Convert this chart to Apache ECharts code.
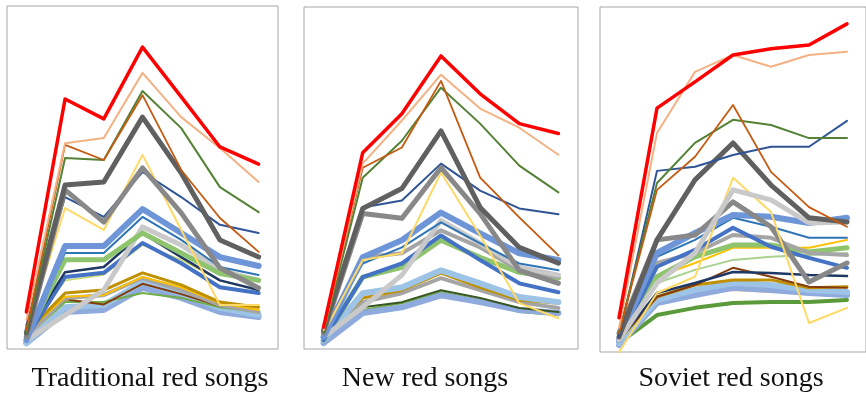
<!DOCTYPE html>
<html><head><meta charset="utf-8">
<script src="https://cdn.jsdelivr.net/npm/echarts@6/dist/echarts.min.js"></script>
<style>html,body{margin:0;padding:0;background:#fff}#c{width:866px;height:395px}</style>
</head><body><div id="c"></div>
<script>
const categories = ['1','2','3','4','5','6','7'];
const panelTitles = ['Traditional red songs', 'New red songs', 'Soviet red songs'];

// Traditional red songs
const tradRed = [10.8, 72.9, 67.1, 88.0, 73.5, 58.9, 53.9];
const tradPeach = [8.5, 60.0, 61.5, 80.5, 67.6, 58.6, 48.7];
const tradOrange = [5.5, 59.5, 55.1, 74.0, 52.2, 38.2, 28.3];
const tradGreen = [4.7, 55.7, 55.1, 75.2, 64.4, 47.2, 39.9];
const tradDGray = [4.7, 47.8, 48.7, 67.6, 51.3, 31.8, 26.8];
const tradMGray = [3.5, 46.4, 37.0, 52.8, 39.7, 23.6, 17.8];
const tradDBlue = [7.0, 44.3, 38.5, 51.6, 44.3, 36.2, 33.8];
const tradYellow = [4.7, 41.1, 34.7, 56.6, 34.7, 12.8, 12.8];
const tradLBlueThick = [2.6, 30.0, 30.0, 40.8, 33.8, 26.8, 24.2];
const tradBlue = [4.7, 28.0, 28.0, 38.5, 31.8, 23.9, 21.6];
const tradLGreen = [3.5, 26.0, 26.0, 33.8, 28.0, 22.0, 20.0];
const tradLGray = [2.6, 9.9, 17.2, 35.6, 30.3, 23.0, 20.0];
const tradNavy = [4.7, 22.4, 23.9, 33.8, 26.8, 20.0, 17.2];
const tradMBlue = [3.2, 21.0, 22.2, 30.9, 25.0, 18.0, 16.3];
const tradYGreen = [4.0, 20.0, 21.6, 30.3, 26.0, 20.0, 17.2];
const tradGold = [4.7, 16.3, 17.2, 22.2, 18.7, 13.7, 12.2];
const tradGoldB = [4.7, 15.2, 15.7, 21.0, 18.0, 13.4, 11.4];
const tradGray = [3.5, 14.9, 15.7, 20.7, 17.2, 12.8, 10.8];
const tradSky = [1.7, 12.2, 12.8, 19.5, 16.3, 12.0, 9.9];
const tradGreen2 = [3.5, 13.7, 13.7, 16.3, 14.9, 12.2, 10.8];
const tradSteel = [1.7, 10.8, 11.4, 17.8, 14.9, 10.8, 9.3];
const tradBrown = [4.0, 14.5, 13.0, 19.0, 16.0, 12.5, 11.0];

// New red songs
const newRed = [6.4, 57.4, 68.8, 85.7, 74.6, 65.9, 63.0];
const newPeach = [5.5, 54.2, 66.8, 80.2, 70.3, 64.7, 56.8];
const newOrange = [5.5, 53.0, 58.9, 78.4, 50.1, 38.5, 27.4];
const newGreen = [4.7, 50.1, 60.9, 76.4, 65.9, 53.6, 45.8];
const newDGray = [5.5, 41.1, 46.9, 63.8, 41.4, 29.7, 25.1];
const newMGray = [4.7, 39.6, 38.2, 53.0, 39.6, 23.0, 19.2];
const newDBlue = [5.5, 41.4, 43.4, 54.2, 46.3, 41.1, 39.4];
const newYellow = [4.7, 26.0, 28.0, 51.6, 33.2, 13.4, 9.0];
const newLBlueThick = [3.5, 26.8, 31.8, 39.9, 33.8, 28.0, 26.0];
const newBlue = [4.7, 25.0, 29.7, 37.0, 30.9, 25.0, 23.0];
const newLGray = [3.5, 12.2, 21.6, 37.6, 30.9, 23.9, 21.6];
const newGray = [4.7, 26.8, 28.0, 34.7, 29.7, 23.0, 21.0];
const newMBlue = [2.6, 21.0, 25.0, 33.2, 26.0, 19.2, 16.6];
const newLGreen = [2.6, 21.0, 23.9, 31.8, 26.8, 22.4, 20.7];
const newSky = [2.6, 16.3, 18.0, 23.0, 19.2, 15.2, 13.7];
const newGold = [3.5, 14.9, 17.2, 22.2, 18.0, 14.3, 13.4];
const newGoldB = [3.5, 15.7, 17.8, 22.4, 18.7, 14.9, 13.7];
const newGray2 = [3.5, 13.7, 16.3, 20.7, 17.2, 13.7, 12.0];
const newDGreen = [3.5, 12.2, 13.7, 17.2, 14.9, 12.0, 10.8];
const newSteel = [1.7, 10.5, 12.2, 15.7, 13.7, 11.4, 10.5];
const newGreen2 = [2.6, 11.4, 13.4, 16.6, 14.3, 10.8, 9.9];

// Soviet red songs
const sovRed = [9.9, 70.7, 78.3, 86.1, 87.9, 89.0, 95.1];
const sovPeach = [7.0, 63.5, 81.2, 86.1, 82.7, 86.1, 87.0];
const sovOrange = [5.5, 47.0, 56.6, 71.6, 52.2, 42.0, 36.3];
const sovGreen = [5.5, 49.0, 60.6, 67.3, 65.8, 62.0, 62.0];
const sovDBlue = [4.4, 52.5, 53.7, 57.1, 59.5, 59.5, 67.0];
const sovDGray = [4.4, 32.5, 49.9, 60.6, 48.4, 38.9, 37.7];
const sovLGray = [3.5, 20.0, 28.7, 47.0, 44.1, 37.4, 37.7];
const sovYellow = [0, 17.1, 21.8, 50.5, 40.6, 8.4, 12.8];
const sovMGray = [5.5, 32.5, 33.9, 43.5, 36.3, 20.3, 25.8];
const sovLBlueThick = [3.5, 28.7, 34.5, 39.7, 39.2, 37.4, 38.9];
const sovBlue = [4.4, 27.6, 32.5, 38.9, 36.3, 33.1, 33.1];
const sovMBlue = [3.5, 24.7, 29.6, 36.0, 30.5, 27.3, 24.4];
const sovGray = [4.4, 25.8, 28.7, 33.9, 33.1, 28.7, 28.1];
const sovLGreen = [3.5, 21.8, 27.6, 31.0, 31.0, 29.0, 30.2];
const sovGoldB = [3.5, 21.8, 25.8, 30.2, 30.2, 30.2, 32.5];
const sovPaleGreen = [4.4, 20.0, 23.8, 26.7, 27.6, 28.1, 28.7];
const sovNavy = [3.5, 17.1, 20.0, 23.2, 22.9, 22.3, 22.0];
const sovBrown = [3.5, 16.0, 19.4, 24.4, 21.8, 18.9, 18.6];
const sovGold = [3.5, 16.0, 19.4, 20.9, 20.9, 18.6, 18.9];
const sovSky = [2.6, 15.1, 18.0, 20.0, 19.4, 18.0, 17.4];
const sovSteel = [2.0, 14.2, 16.5, 18.6, 18.0, 17.1, 16.5];
const sovLPeach = [2.6, 14.5, 17.1, 18.0, 17.4, 17.1, 16.5];
const sovDGreenThick = [2.6, 10.7, 12.8, 14.2, 14.5, 14.5, 15.1];

const styles = {
  red: ['#FF0000', 3.5], peach: ['#F4B183', 2], orange: ['#C55A11', 1.8], green: ['#548235', 2],
  dgray: ['#606060', 5], mgray: ['#888888', 5], dblue: ['#2F5597', 2], yellow: ['#FFD966', 2],
  lblueThick: ['#6E95D8', 6], blue: ['#2E75B6', 2], lgray: ['#C9C9C9', 5], gray: ['#A5A5A5', 4],
  navy: ['#203864', 2.5], mblue: ['#4472C4', 4], lgreen: ['#8FC46E', 5], ygreen: ['#C9D66A', 1.5],
  gold: ['#BF9000', 3], goldB: ['#FFC000', 2], sky: ['#9DC3E6', 6], steel: ['#8FAADC', 6],
  green2: ['#70AD47', 2], dgreen: ['#375623', 2], brown: ['#843C0C', 2], dgreenThick: ['#5A9A3A', 4],
  paleGreen: ['#A9D18E', 2], lpeach: ['#F4B183', 2]
};

const panels = [
  [['steel', tradSteel], ['sky', tradSky], ['green2', tradGreen2], ['brown', tradBrown], ['gray', tradGray], ['goldB', tradGoldB], ['gold', tradGold],
   ['ygreen', tradYGreen], ['mblue', tradMBlue], ['navy', tradNavy], ['lgray', tradLGray], ['lgreen', tradLGreen], ['blue', tradBlue], ['lblueThick', tradLBlueThick],
   ['yellow', tradYellow], ['dblue', tradDBlue], ['mgray', tradMGray], ['dgray', tradDGray], ['green', tradGreen], ['orange', tradOrange], ['peach', tradPeach], ['red', tradRed]],
  [['green2', newGreen2], ['steel', newSteel], ['dgreen', newDGreen], ['gray', newGray2], ['goldB', newGoldB], ['gold', newGold], ['sky', newSky],
   ['lgreen', newLGreen], ['mblue', newMBlue], ['gray', newGray], ['lgray', newLGray], ['blue', newBlue], ['lblueThick', newLBlueThick],
   ['yellow', newYellow], ['dblue', newDBlue], ['mgray', newMGray], ['dgray', newDGray], ['green', newGreen], ['orange', newOrange], ['peach', newPeach], ['red', newRed]],
  [['dgreenThick', sovDGreenThick], ['lpeach', sovLPeach], ['steel', sovSteel], ['sky', sovSky], ['gold', sovGold], ['brown', sovBrown], ['navy', sovNavy],
   ['paleGreen', sovPaleGreen], ['goldB', sovGoldB], ['lgreen', sovLGreen], ['gray', sovGray], ['mblue', sovMBlue], ['blue', sovBlue], ['lblueThick', sovLBlueThick],
   ['mgray', sovMGray], ['yellow', sovYellow], ['lgray', sovLGray], ['dgray', sovDGray], ['dblue', sovDBlue], ['green', sovGreen], ['orange', sovOrange], ['peach', sovPeach], ['red', sovRed]]
];

const grids = [
  {left: 7, top: 6, width: 271, height: 343},
  {left: 304, top: 7, width: 274, height: 342},
  {left: 600, top: 7, width: 272, height: 345}
].map(g => Object.assign(g, {show: true, borderColor: '#A6A6A6', borderWidth: 1, backgroundColor: '#fff'}));

const xAxis = grids.map((g, i) => ({type: 'category', gridIndex: i, data: categories, boundaryGap: true, show: false}));
const yAxis = grids.map((g, i) => ({type: 'value', gridIndex: i, min: 0, max: 100, show: false}));

const series = [];
panels.forEach((list, i) => {
  list.forEach(([key, data]) => {
    const [color, width] = styles[key];
    series.push({type: 'line', xAxisIndex: i, yAxisIndex: i, data, showSymbol: false, symbol: 'none',
      lineStyle: {color, width, cap: 'round', join: 'round'}, silent: true});
  });
});

const titleX = [150, 425, 731];
const graphic = panelTitles.map((t, i) => ({
  type: 'text', x: titleX[i], y: 379,
  style: {text: t, align: 'center', verticalAlign: 'middle', font: '28px "Liberation Serif", "Times New Roman", serif', fill: '#111'}
}));

const chart = echarts.init(document.getElementById('c'), null, {renderer: 'canvas'});
chart.setOption({animation: false, grid: grids, xAxis, yAxis, series, graphic});
</script></body></html>
